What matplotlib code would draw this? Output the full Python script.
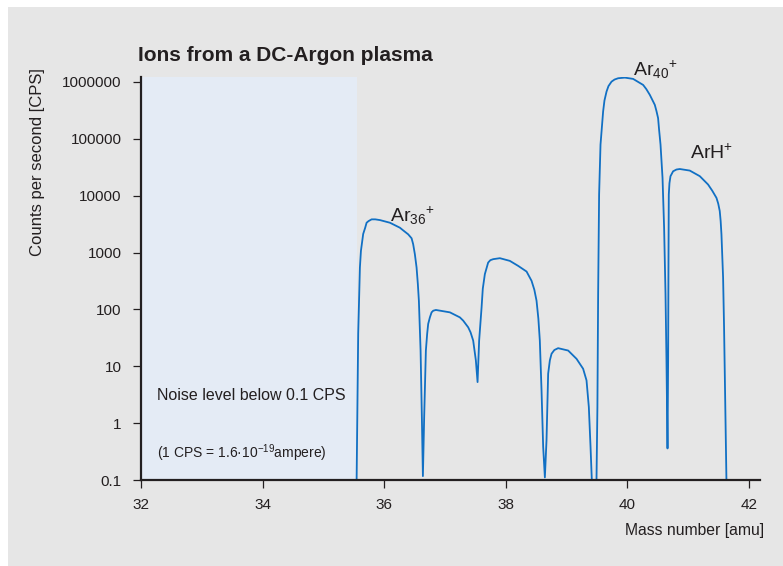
import matplotlib
matplotlib.use("Agg")
import matplotlib.pyplot as plt
from matplotlib.patches import Rectangle

plt.rcParams["font.family"] = ["Liberation Sans", "DejaVu Sans"]
plt.rcParams["mathtext.fontset"] = "custom"
plt.rcParams["mathtext.rm"] = "Liberation Sans"
plt.rcParams["mathtext.it"] = "Liberation Sans:italic"
plt.rcParams["mathtext.bf"] = "Liberation Sans:bold"

# spectrum (mass in amu, counts per second)
mass = [
    35.52, 35.546, 35.572, 35.600, 35.617, 35.654, 35.687, 35.710, 35.742, 35.793,
    35.852, 35.929, 36.094, 36.258, 36.312, 36.394, 36.450, 36.476, 36.504, 36.532,
    36.553, 36.570, 36.598, 36.619, 36.636, 36.657, 36.685, 36.706, 36.723, 36.751,
    36.779, 36.806, 36.850, 37.080, 37.244, 37.299, 37.381, 37.420, 37.463, 37.507,
    37.535, 37.561, 37.601, 37.621, 37.655, 37.709, 37.745, 37.792, 37.902, 38.066,
    38.203, 38.341, 38.423, 38.469, 38.505, 38.535, 38.559, 38.587, 38.614, 38.642,
    38.669, 38.696, 38.724, 38.752, 38.798, 38.860, 39.025, 39.163, 39.271, 39.327,
    39.365, 39.393, 39.414, 39.43, 39.475, 39.491, 39.506, 39.518, 39.534, 39.557,
    39.600, 39.622, 39.656, 39.688, 39.738, 39.787, 39.847, 39.957, 40.093, 40.258,
    40.310, 40.368, 40.450, 40.477, 40.504, 40.520, 40.544, 40.577, 40.603, 40.626,
    40.642, 40.659, 40.669, 40.675, 40.680, 40.691, 40.708, 40.751, 40.806, 40.861,
    41.025, 41.190, 41.326, 41.395, 41.464, 41.493, 41.518, 41.533, 41.546, 41.573,
    41.589, 41.606, 41.628, 41.64,
]
counts = [
    0.05, 0.1, 37.5, 544, 1070, 2120, 2730, 3340, 3570, 3830,
    3830, 3720, 3340, 2730, 2450, 2090, 1780, 1400, 933, 545,
    279, 142, 18.9, 1.28, 0.117, 1.28, 18.9, 37, 55.5, 72.4,
    88.7, 94.8, 97.7, 88.7, 72.4, 63.4, 48.4, 39.5, 28.3, 12.7,
    5.27, 28.3, 108, 231, 417, 665, 733, 764, 795, 713,
    582, 463, 318, 221, 142, 68.7, 28.3, 3.77, 0.383, 0.111,
    0.502, 7.4, 12.7, 16.6, 19.3, 20.8, 18.9, 13.5, 9.04, 5.64,
    1.92, 0.383, 0.1, 0.05, 0.05, 0.1, 1.92, 186, 10500, 78900,
    302000, 471000, 676000, 844000, 1010000, 1100000, 1160000, 1190000, 1130000, 885000,
    748000, 592000, 395000, 308000, 231000, 146000, 78900, 20500, 2730, 186,
    12.7, 0.359, 12.7, 713, 10500, 16600, 22000, 26800, 28800, 29400,
    27600, 22000, 15700, 12200, 9140, 7240, 5360, 3570, 2090, 363,
    48.4, 3.3, 0.1, 0.05,
]

x_ticks = [32, 34, 36, 38, 40, 42]
y_ticks = [0.1, 1, 10, 100, 1000, 10000, 100000, 1000000]
y_tick_labels = ["0.1", "1", "10", "100", "1000", "10000", "100000", "1000000"]
noise_end = 35.55

ink = "#231f20"
bg = "#e6e6e6"

fig = plt.figure(figsize=(7.83, 5.66), dpi=100, facecolor="white")
fig.patches.append(Rectangle((8 / 783, 0), 1, 1 - 7 / 566, transform=fig.transFigure,
                             facecolor=bg, edgecolor="none", zorder=-10))

ax = fig.add_axes([141 / 783, 86 / 566, 619 / 783, 403 / 566])
ax.set_facecolor(bg)
ax.set_yscale("log")
ax.set_xlim(32, 42.18)
ax.set_ylim(0.1, 1.22e6)

ax.axvspan(32, noise_end, color="#e4ebf5", lw=0, zorder=0)
ax.plot(mass, counts, color="#1170c4", lw=1.3, zorder=2, solid_joinstyle="round")

for s in ["top", "right"]:
    ax.spines[s].set_visible(False)
for s in ["left", "bottom"]:
    ax.spines[s].set_linewidth(1.6)
    ax.spines[s].set_color(ink)
    ax.spines[s].set_zorder(3)

ax.set_xticks(x_ticks)
ax.set_xticklabels([str(t) for t in x_ticks])
ax.set_yticks(y_ticks)
ax.set_yticklabels(y_tick_labels)
ax.minorticks_off()
ax.tick_params(axis="both", direction="out", length=6, width=0.9, color=ink,
               labelcolor=ink, labelsize=11)
ax.tick_params(axis="y", pad=8)
ax.tick_params(axis="x", pad=7)

# ion labels: small subscript, then a raised "+"
ax.text(36.09, 3550, r"Ar$_{36}{}^{+}$", fontsize=14, color=ink, va="baseline")
ax.text(40.093, 1.31e6, r"Ar$_{40}{}^{+}$", fontsize=14, color=ink, va="baseline",
        clip_on=False)
ax.text(41.025, 45100, r"ArH$^{+}$", fontsize=14, color=ink, va="baseline")

ax.text(32.26, 3.12, "Noise level below 0.1 CPS", fontsize=11.5, color=ink, va="center")
ax.text(32.27, 0.30, r"(1 CPS = 1.6·10$^{-19}$ampere)", fontsize=10, color=ink, va="center")

fig.text(138 / 783, 1 - 61 / 566, "Ions from a DC-Argon plasma", fontsize=15,
         fontweight="bold", color=ink, va="baseline")
fig.text(764 / 783, 1 - 535 / 566, "Mass number [amu]", fontsize=11.3, color=ink,
         ha="right", va="baseline")
fig.text(38 / 783, 1 - 162 / 566, "Counts per second [CPS]", fontsize=12, color=ink,
         rotation=90, ha="center", va="center")

fig.savefig("out.png", dpi=100, facecolor="white")
